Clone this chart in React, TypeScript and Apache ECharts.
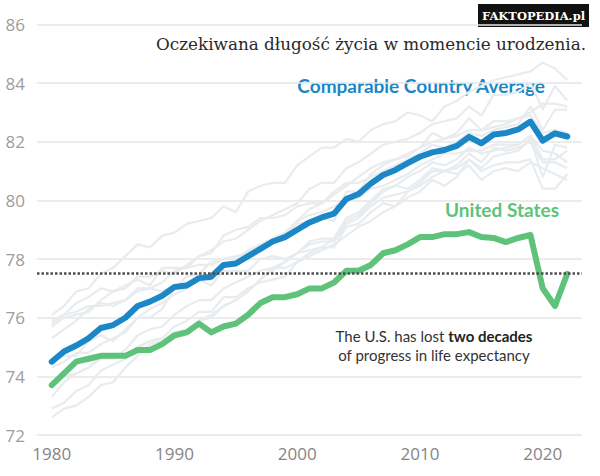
import React, { useEffect, useRef } from "react";
import * as echarts from "echarts";

const years: number[] = Array.from({ length: 43 }, (_, i) => 1980 + i);
const xTickLabels = [1980, 1990, 2000, 2010, 2020];
const yTicks = { min: 72, max: 86, interval: 2 };
const referenceLevel = 77.5;

const comparableAverage = [
  74.5, 74.85, 75.05, 75.3, 75.65, 75.75, 76.0, 76.4, 76.55, 76.75,
  77.05, 77.1, 77.35, 77.4, 77.8, 77.85, 78.1, 78.35, 78.6, 78.75,
  79.0, 79.25, 79.42, 79.55, 80.05, 80.22, 80.58, 80.87, 81.04, 81.27,
  81.49, 81.64, 81.72, 81.86, 82.17, 81.95, 82.25, 82.3, 82.42, 82.69,
  82.04, 82.29, 82.18,
];
const unitedStates = [
  73.7, 74.1, 74.5, 74.6, 74.7, 74.7, 74.7, 74.9, 74.9, 75.1,
  75.4, 75.5, 75.8, 75.5, 75.7, 75.8, 76.1, 76.5, 76.7, 76.7,
  76.8, 77.0, 77.0, 77.2, 77.6, 77.6, 77.8, 78.2, 78.3, 78.5,
  78.75, 78.75, 78.85, 78.85, 78.92, 78.75, 78.72, 78.58, 78.72, 78.82,
  77.0, 76.4, 77.5,
];

const japan = [76.1,76.4,76.9,77.0,77.5,77.7,78.1,78.5,78.4,78.8, 78.9,79.2,79.3,79.4,79.8,79.6,80.3,80.5,80.6,80.6, 81.2,81.5,81.8,81.8,82.1,82.0,82.4,82.6,82.7,83.0, 82.9,82.7,83.2,83.4,83.7,83.9,84.1,84.2,84.3,84.4, 84.7,84.5,84.1];
const switzerland = [75.7,76.0,76.1,76.2,76.6,76.9,77.0,77.4,77.4,77.6, 77.5,77.8,78.1,78.3,78.6,78.7,79.0,79.3,79.5,79.7, 79.9,80.4,80.6,80.6,81.1,81.3,81.6,81.9,82.0,82.1, 82.3,82.6,82.7,82.8,83.2,82.9,83.6,83.6,83.7,84.0, 83.1,83.9,83.4];
const sweden = [75.8,76.1,76.5,76.7,77.0,76.9,77.1,77.3,77.1,77.7, 77.7,77.7,78.1,78.2,78.8,79.0,79.1,79.4,79.4,79.5, 79.8,79.9,79.9,80.3,80.6,80.6,80.8,81.0,81.2,81.4, 81.6,81.9,81.8,82.0,82.3,82.2,82.4,82.5,82.6,83.2, 82.4,83.1,83.1];
const netherlands = [75.9,76.1,76.2,76.4,76.4,76.5,76.6,77.0,77.0,76.9, 77.1,77.2,77.3,77.1,77.6,77.6,77.6,78.0,78.1,78.0, 78.2,78.3,78.4,78.7,79.4,79.6,80.0,80.4,80.5,80.8, 81.0,81.3,81.2,81.4,81.8,81.6,81.7,81.8,81.9,82.2, 81.4,81.4,81.7];
const canada = [75.3,75.6,75.9,76.3,76.5,76.4,76.6,76.9,77.0,77.2, 77.6,77.7,77.8,77.8,78.0,78.0,78.3,78.5,78.7,78.9, 79.3,79.5,79.6,79.8,80.0,80.1,80.4,80.5,80.7,80.9, 81.2,81.4,81.6,81.6,81.7,81.7,81.9,81.9,81.9,82.2, 81.7,81.6,81.3];
const australia = [74.6,74.7,74.7,75.2,75.4,75.2,75.6,76.0,76.0,76.3, 77.0,77.4,77.5,77.9,78.0,78.1,78.2,78.5,78.7,78.9, 79.3,79.7,79.9,80.2,80.5,80.8,81.1,81.3,81.4,81.6, 81.8,82.0,82.1,82.2,82.4,82.4,82.5,82.6,82.8,83.0, 83.3,83.3,83.2];
const france = [74.3,74.5,74.8,74.8,75.1,75.3,75.5,76.0,76.3,76.5, 76.8,77.0,77.3,77.3,77.7,77.9,78.1,78.4,78.6,78.8, 79.2,79.3,79.4,79.3,80.3,80.3,80.9,81.2,81.4,81.5, 81.8,82.3,82.1,82.3,82.8,82.4,82.7,82.7,82.8,82.9, 82.3,82.4,82.3];
const unitedKingdom = [73.7,74.0,74.1,74.3,74.6,74.6,74.7,75.0,75.2,75.3, 75.7,75.9,76.2,76.2,76.7,76.7,77.0,77.2,77.3,77.4, 77.9,78.1,78.3,78.5,78.8,79.1,79.3,79.6,79.8,80.3, 80.6,81.0,81.0,81.1,81.4,81.0,81.2,81.3,81.3,81.4, 80.4,80.4,80.9];
const belgium = [73.3,73.8,74.1,74.3,74.7,74.6,74.9,75.4,75.6,75.7, 76.1,76.4,76.6,76.6,77.0,77.2,77.4,77.6,77.7,77.7, 77.9,78.2,78.4,78.4,79.1,79.2,79.6,79.9,79.8,80.1, 80.3,80.7,80.5,80.8,81.4,81.1,81.5,81.6,81.7,82.1, 80.8,81.9,81.8];
const germany = [72.9,73.1,73.5,73.7,74.2,74.4,74.6,75.0,75.2,75.3, 75.3,75.5,75.9,76.0,76.4,76.6,76.9,77.3,77.6,77.9, 78.2,78.5,78.6,78.6,79.2,79.4,79.8,80.1,80.2,80.3, 80.5,80.8,81.0,80.9,81.2,80.7,81.0,81.1,81.0,81.3, 81.1,80.9,80.7];
const austria = [72.6,72.9,73.0,73.3,73.7,73.8,74.3,74.7,75.1,75.2, 75.5,75.6,75.9,76.1,76.4,76.6,76.9,77.3,77.7,77.9, 78.2,78.6,78.7,78.7,79.3,79.5,79.9,80.3,80.5,80.4, 80.7,81.1,81.0,81.2,81.6,81.3,81.8,81.7,81.8,82.0, 81.3,81.3,81.1];

const countries: [string, number[]][] = [
  ["Japan", japan], ["Switzerland", switzerland], ["Sweden", sweden],
  ["Netherlands", netherlands], ["Canada", canada], ["Australia", australia],
  ["France", france], ["United Kingdom", unitedKingdom], ["Belgium", belgium],
  ["Germany", germany], ["Austria", austria],
];

const pairs = (vals: number[]) => years.map((y, i) => [y, vals[i]]);

const BLUE = "#1b87c6";
const GREEN = "#5fc27a";
const GRAY = "#e8ecef";

export default function App() {
  const ref = useRef<HTMLDivElement>(null);
  useEffect(() => {
    if (!ref.current) return;
    const chart = echarts.init(ref.current, undefined, { renderer: "svg" });
    const series: any[] = countries.map(([name, vals]) => ({
      name, type: "line", data: pairs(vals), symbol: "none", z: 1,
      lineStyle: { color: GRAY, width: 2.2, join: "round" }, silent: true,
    }));
    series.push({
      name: "ref", type: "line", data: [], z: 2, silent: true,
      markLine: {
        silent: true, symbol: ["none", "none"], label: { show: false },
        lineStyle: { color: "#4d4d4d", width: 2.5, type: [2.5, 2] },
        data: [{ yAxis: referenceLevel }],
      },
    });
    series.push({
      name: "Comparable Country Average", type: "line", data: pairs(comparableAverage),
      symbol: "none", z: 3, lineStyle: { color: BLUE, width: 6, join: "round", cap: "round" },
    });
    series.push({
      name: "United States", type: "line", data: pairs(unitedStates),
      symbol: "none", z: 4, lineStyle: { color: GREEN, width: 6, join: "round", cap: "round" },
    });
    chart.setOption({
      animation: false,
      backgroundColor: "#ffffff",
      grid: { left: 37, right: 18, top: 24.5, bottom: 41 },
      xAxis: {
        type: "value", min: 1978.8, max: 2023.2,
        axisLine: { show: false }, axisTick: { show: false }, splitLine: { show: false },
        axisLabel: {
          customValues: xTickLabels, color: "#858585", fontSize: 17,
          fontFamily: "Open Sans", margin: 10, formatter: (v: number) => String(v),
        },
      },
      yAxis: {
        type: "value", min: yTicks.min, max: yTicks.max, interval: yTicks.interval,
        axisLine: { show: false }, axisTick: { show: false },
        splitLine: { lineStyle: { color: "#e6e6e6", width: 1.5 } },
        axisLabel: { color: "#9d9d9d", fontSize: 17, fontFamily: "Open Sans", margin: 12 },
      },
      series,
      graphic: [
        {
          type: "text", x: 586, y: 44,
          style: { text: "Oczekiwana długość życia w momencie urodzenia.", fill: "#2a2a2a",
            font: "16.8px 'DejaVu Serif'", align: "right", verticalAlign: "middle" },
        },
        { type: "rect", shape: { x: 478, y: 4, width: 111, height: 23 }, style: { fill: "#111" } },
        {
          type: "text", x: 533.5, y: 15.5,
          style: { text: "FAKTOPEDIA.pl", fill: "#fff", font: "bold 11.5px 'DejaVu Serif'",
            align: "center", verticalAlign: "middle" },
        },
        {
          type: "text", x: 545, y: 85,
          style: { text: "Comparable Country Average", fill: BLUE, font: "bold 19px Lato",
            align: "right", verticalAlign: "middle" },
        },
        {
          type: "text", x: 559, y: 209,
          style: { text: "United States", fill: GREEN, font: "bold 19px Lato",
            align: "right", verticalAlign: "middle" },
        },
        {
          type: "text", x: 434, y: 345,
          style: {
            text: "{a|The U.S. has lost }{b|two decades}\n{a|of progress in life expectancy}",
            align: "center", verticalAlign: "middle",
            rich: {
              a: { font: "15px Lato", fill: "#333", lineHeight: 19 },
              b: { font: "bold 15px Lato", fill: "#222", lineHeight: 19 },
            },
          },
        },
      ],
    });
    return () => chart.dispose();
  }, []);
  return (
    <div ref={ref} style={{ position: "fixed", left: 0, top: 0, width: 600, height: 476 }} />
  );
}
